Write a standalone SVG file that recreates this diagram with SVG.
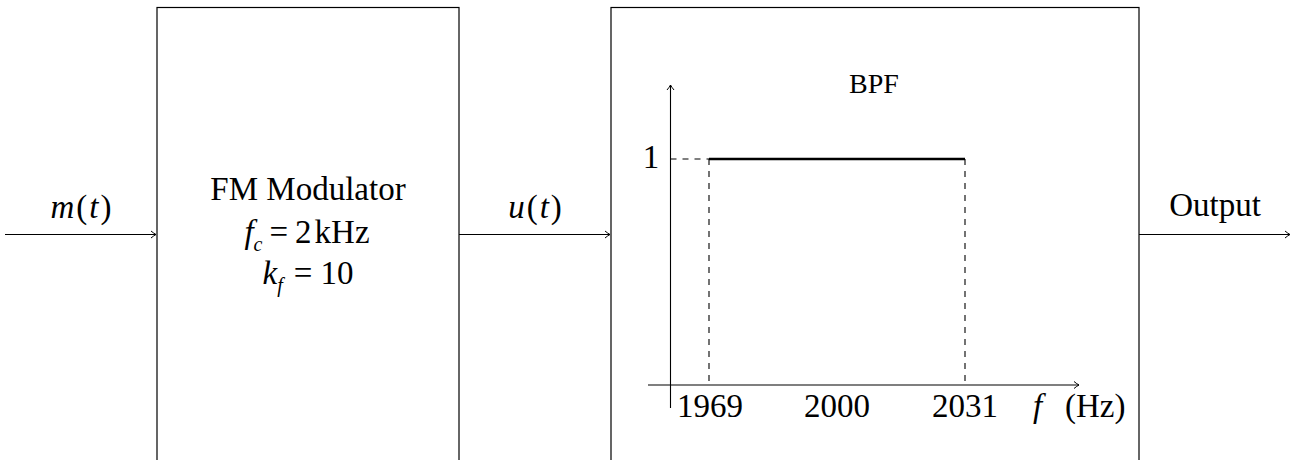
<svg xmlns="http://www.w3.org/2000/svg" width="1296" height="460" viewBox="0 0 1296 460">
<style>
text{font-family:"Liberation Serif","Times New Roman",serif;fill:#000}
.lbl{font-size:33px}
.it{font-style:italic}
.box{fill:none;stroke:#000;stroke-width:1.2}
.ln{fill:none;stroke:#000;stroke-width:1.1}
.dash{fill:none;stroke:#000;stroke-width:1.1;stroke-dasharray:6,6}
</style>
<defs>
<marker id="arr" markerWidth="10" markerHeight="10" refX="7" refY="5" orient="auto" markerUnits="userSpaceOnUse">
<path d="M2,1.5 Q5,4 7,5 Q5,6 2,8.5" fill="none" stroke="#000" stroke-width="1"/>
</marker>
</defs>
<g id="connectors">
<line class="ln" x1="5" y1="234.5" x2="156" y2="234.5" marker-end="url(#arr)"/>
<line class="ln" x1="459" y1="234.5" x2="610" y2="234.5" marker-end="url(#arr)"/>
<line class="ln" x1="1139" y1="234.5" x2="1290" y2="234.5" marker-end="url(#arr)"/>
<text class="lbl" x="81" y="218" text-anchor="middle"><tspan class="it">m</tspan><tspan dx="2">(</tspan><tspan class="it" dx="2">t</tspan><tspan dx="2">)</tspan></text>
<text class="lbl" x="535" y="218" text-anchor="middle"><tspan class="it">u</tspan><tspan dx="2">(</tspan><tspan class="it" dx="2">t</tspan><tspan dx="2">)</tspan></text>
<text class="lbl" x="1215" y="216" text-anchor="middle">Output</text>
</g>
<g id="fm">
<rect class="box" x="157" y="7.5" width="302" height="470"/>
<text class="lbl" x="308" y="200" text-anchor="middle">FM Modulator</text>
<text class="lbl" x="307" y="243" text-anchor="middle"><tspan class="it">f</tspan><tspan class="it" font-size="20" dy="8">c</tspan><tspan dy="-8" dx="7">=</tspan><tspan dx="7">2</tspan><tspan dx="3">kHz</tspan></text>
<text class="lbl" x="308" y="284" text-anchor="middle"><tspan class="it">k</tspan><tspan class="it" font-size="20" dy="8">f</tspan><tspan dy="-8" dx="11">=</tspan><tspan dx="8">10</tspan></text>
</g>
<g id="bpf">
<rect class="box" x="611" y="7.5" width="528" height="470"/>
<text x="874" y="93" font-size="28" text-anchor="middle">BPF</text>
<line class="ln" x1="670.5" y1="408" x2="670.5" y2="85" marker-end="url(#arr)"/>
<line class="ln" x1="648" y1="385" x2="1079" y2="385" marker-end="url(#arr)"/>
<line class="dash" x1="670.5" y1="159" x2="709" y2="159"/>
<line class="dash" x1="709" y1="159" x2="709" y2="385"/>
<line class="dash" x1="965" y1="159" x2="965" y2="385"/>
<line x1="709" y1="159" x2="965" y2="159" stroke="#000" stroke-width="2.6"/>
<text class="lbl" x="651" y="168" text-anchor="middle">1</text>
<text class="lbl" x="710" y="417" text-anchor="middle">1969</text>
<text class="lbl" x="837" y="417" text-anchor="middle">2000</text>
<text class="lbl" x="965" y="417" text-anchor="middle">2031</text>
<text class="lbl" x="1033" y="417"><tspan class="it">f</tspan></text>
<text class="lbl" x="1065" y="417">(Hz)</text>
</g>
</svg>
